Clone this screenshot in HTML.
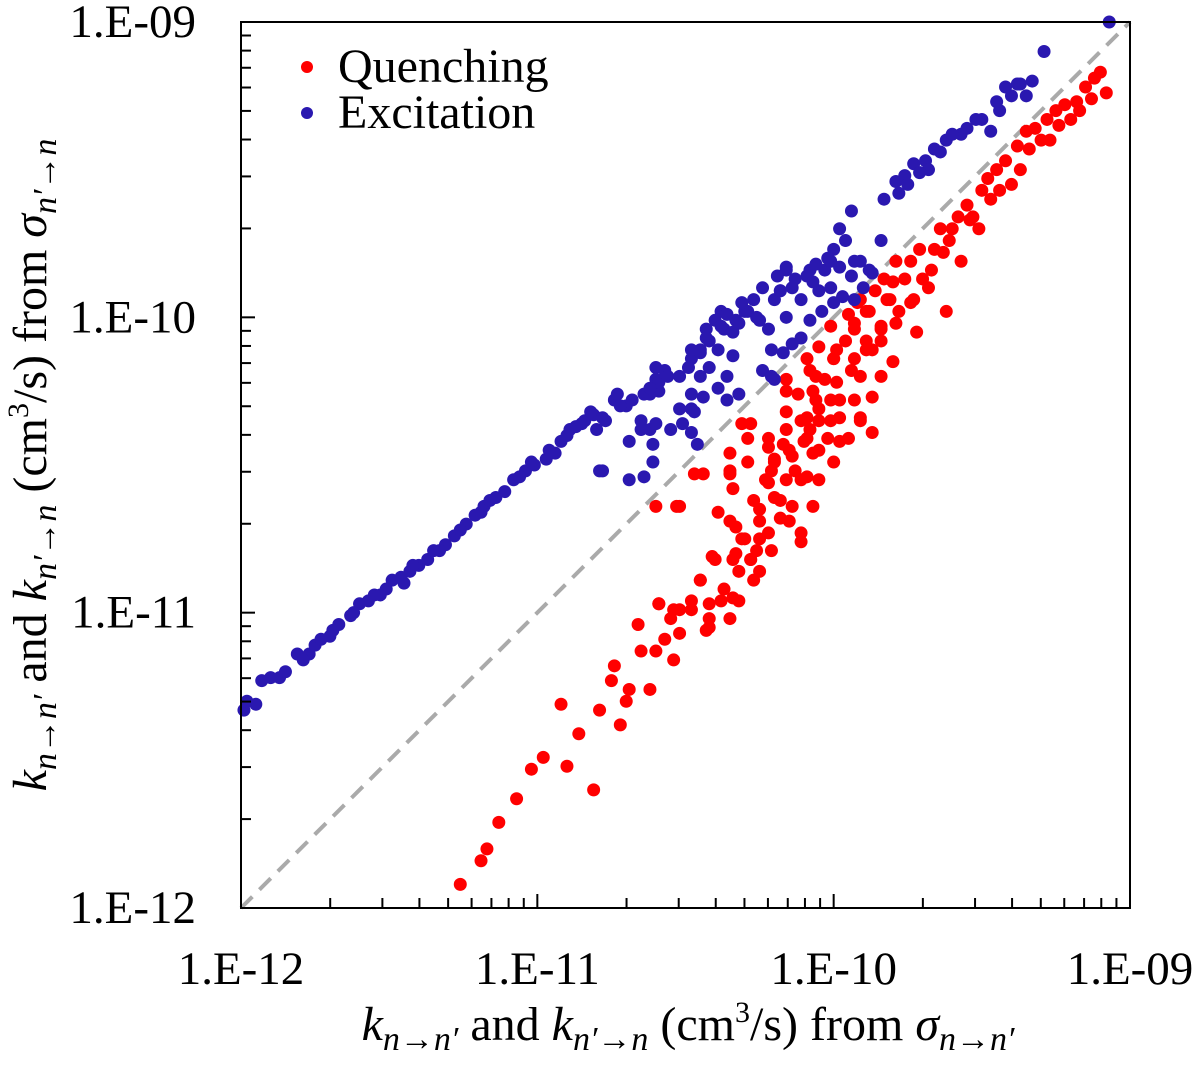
<!DOCTYPE html>
<html><head><meta charset="utf-8"><style>
html,body{margin:0;padding:0;background:#fff}
svg text{font-family:"Liberation Serif",serif;fill:#000}
</style></head><body>
<svg id="chart" width="1200" height="1063" xmlns="http://www.w3.org/2000/svg">
<g id="plot"></g>
<g id="axes"></g>
<g>
<circle cx="307" cy="67" r="6" fill="#ff0000"/>
<text x="338" y="82" font-size="48">Quenching</text>
<circle cx="307" cy="113" r="6" fill="#2a18b0"/>
<text x="338" y="128" font-size="48">Excitation</text>
</g>
<text x="688" y="1040" font-size="48" text-anchor="middle"><tspan font-style="italic">k</tspan><tspan font-style="italic" font-size="34" dy="10">n→n′</tspan><tspan dy="-10"> and  </tspan><tspan font-style="italic">k</tspan><tspan font-style="italic" font-size="34" dy="10">n′→n</tspan><tspan dy="-10"> (cm</tspan><tspan font-size="30" dy="-18">3</tspan><tspan dy="18">/s) from </tspan><tspan font-style="italic">σ</tspan><tspan font-style="italic" font-size="34" dy="10">n→n′</tspan></text>
<text transform="translate(46,465) rotate(-90)" font-size="48" text-anchor="middle"><tspan font-style="italic">k</tspan><tspan font-style="italic" font-size="34" dy="10">n→n′</tspan><tspan dy="-10"> and  </tspan><tspan font-style="italic">k</tspan><tspan font-style="italic" font-size="34" dy="10">n′→n</tspan><tspan dy="-10"> (cm</tspan><tspan font-size="30" dy="-18">3</tspan><tspan dy="18">/s) from </tspan><tspan font-style="italic">σ</tspan><tspan font-style="italic" font-size="34" dy="10">n′→n</tspan></text>
</svg>
<script>
// log10 values of rate coefficients (cm^3/s)
const excitationLogX=[-11.99,-11.98,-11.95,-11.93,-11.90,-11.87,-11.81,-11.77,-11.75,-11.73,-11.70,-11.67,-11.63,-11.60,-11.57,-11.55,-11.51,-11.49,-11.46,-11.43,-11.40,-11.37,-11.35,-11.31,-11.28,-11.24,-11.21,-11.18,-11.14,-11.11,-11.08,-11.04,-11.01,-10.97,-10.94,-10.92,-10.89,-10.87,-10.84,-10.81,-10.77,-10.79,-10.74,-10.70,-10.69,-10.65,-10.64,-10.62,-10.60,-10.59,-10.57,-10.52,-10.48,-10.48,-10.45,-10.43,-10.42,-10.40,-10.38,-10.37,-10.33,-10.30,-10.27,-10.25,-10.21,-10.20,-10.18,-10.16,-10.13,-10.11,-10.08,-10.05,-10.03,-10.01,-10.00,-9.98,-9.96,-9.94,-9.91,-9.88,-9.84,-9.83,-9.79,-9.76,-9.73,-9.69,-9.66,-9.62,-9.57,-9.52,-9.47,-9.44,-9.40,-9.37,-9.35,-9.29,-9.07,
-10.69,-10.64,-10.61,-10.78,-10.65,-10.61,-10.55,-10.60,-10.51,-10.47,-10.46,-10.48,-10.52,-10.78,-10.72,-10.68,-10.73,-10.62,-10.59,-10.56,-10.60,-10.62,-10.49,-10.48,-10.45,-10.45,-10.42,-10.43,-10.39,-10.38,-10.36,-10.34,-10.32,-10.29,-10.31,-10.26,-10.34,-10.36,-10.39,-10.36,-10.32,-10.44,-10.48,-10.24,-10.19,-10.16,-10.20,-10.16,-10.18,-10.14,-10.09,-10.06,-10.02,-9.98,-9.93,-10.07,-10.01,-9.97,-9.93,-10.00,-10.04,-10.08,-10.11,-10.14,-10.17,-10.22,-10.24,-10.21,-9.94,-9.87,-9.90,
-11.85,-11.79,-11.69,-11.62,-11.53,-11.45,-11.42,-11.33,-11.26,-11.19,-11.16,-11.06,-11.02,-10.96,-10.90,-10.85,-10.82,-10.80,
-9.60,-9.55,-9.50,-9.45,-9.42,-9.38,-9.33,-9.64,-9.68,-9.71,-9.75,-9.78];
const excitationLogY=[-11.33,-11.30,-11.31,-11.23,-11.22,-11.22,-11.14,-11.14,-11.11,-11.09,-11.08,-11.04,-11.01,-10.97,-10.96,-10.94,-10.92,-10.89,-10.88,-10.86,-10.84,-10.82,-10.79,-10.77,-10.74,-10.70,-10.67,-10.64,-10.61,-10.59,-10.55,-10.52,-10.50,-10.48,-10.46,-10.42,-10.38,-10.37,-10.35,-10.33,-10.35,-10.52,-10.28,-10.30,-10.42,-10.35,-10.26,-10.38,-10.21,-10.25,-10.18,-10.20,-10.14,-10.31,-10.11,-10.04,-10.08,-10.01,-9.98,-10.04,-10.01,-9.98,-9.94,-10.01,-10.11,-10.21,-9.91,-9.84,-9.87,-9.94,-9.84,-9.91,-9.84,-9.81,-9.77,-9.70,-9.74,-9.64,-9.81,-9.84,-9.74,-9.60,-9.54,-9.52,-9.48,-9.47,-9.43,-9.40,-9.38,-9.33,-9.37,-9.30,-9.25,-9.21,-9.25,-9.10,-9.00,
-10.55,-10.54,-10.49,-10.52,-10.38,-10.43,-10.38,-10.36,-10.36,-10.32,-10.43,-10.39,-10.31,-10.34,-10.30,-10.28,-10.26,-10.26,-10.22,-10.20,-10.17,-10.24,-10.17,-10.11,-10.12,-10.20,-10.17,-10.07,-10.11,-10.03,-9.99,-10.05,-10.02,-9.98,-9.95,-10.00,-10.13,-10.20,-10.24,-10.28,-10.26,-10.27,-10.26,-9.90,-9.86,-9.83,-9.94,-10.00,-9.91,-9.90,-9.86,-9.82,-9.80,-9.83,-9.81,-9.88,-9.90,-9.93,-9.94,-9.95,-9.98,-10.01,-10.07,-10.09,-10.12,-10.04,-10.18,-10.20,-9.86,-9.85,-9.90,
-11.20,-11.16,-11.06,-11.00,-10.94,-10.90,-10.84,-10.79,-10.72,-10.66,-10.62,-10.54,-10.49,-10.45,-10.40,-10.36,-10.32,-10.38,
-9.38,-9.36,-9.33,-9.27,-9.22,-9.21,-9.20,-9.44,-9.50,-9.51,-9.55,-9.58];
const quenchingLogX=[-11.26,-11.19,-11.17,-11.13,-11.07,-11.02,-10.98,-10.90,-10.86,-10.92,-10.81,-10.79,-10.75,-10.74,-10.72,-10.70,-10.69,-10.65,-10.62,-10.60,-10.59,-10.57,-10.55,-10.54,-10.52,-10.48,-10.45,-10.43,-10.42,-10.40,-10.38,-10.37,-10.35,-10.33,-10.32,-10.30,-10.28,-10.27,-10.25,-10.23,-10.21,-10.20,-10.18,-10.15,-10.13,-10.11,-10.10,-10.08,-10.06,-10.05,-10.03,-10.01,-10.00,-9.98,-9.96,-9.94,-9.93,-9.91,-9.89,-9.88,-9.86,-9.84,-9.83,-9.81,-9.79,-9.78,-9.76,-9.74,-9.73,-9.71,-9.67,-9.64,-9.62,-9.61,-9.57,-9.54,-9.51,-9.47,-9.44,-9.40,-9.37,-9.34,-9.30,-9.27,-9.24,-9.20,-9.17,-9.13,-9.08,-10.25,-10.15,-10.11,-10.21,-10.32,-10.27,-10.35,-10.52,-10.60,-10.05,-9.98,-9.91,-10.08,
-10.66,-10.59,-10.54,-10.52,-10.48,-10.45,-10.42,-10.42,-10.35,-10.34,-10.34,-10.41,-10.28,-10.31,-10.26,-10.25,-10.33,-10.22,-10.18,-10.11,-10.25,-10.20,-10.14,-10.07,-10.22,-10.16,-10.09,-10.05,-10.20,-10.14,-10.07,-10.00,-10.34,-10.35,-10.22,-10.17,-10.09,-10.02,-9.95,-10.05,-9.98,-9.91,-9.87,-10.16,-10.09,-10.01,-9.93,-9.87,-10.12,-10.07,-9.99,-9.91,-9.84,-10.06,-10.16,-10.00,-9.93,-9.87,-9.80,-9.99,-10.05,-9.89,-9.84,-10.01,-9.93,-9.84,-9.95,-9.89,-9.92,-9.82,-9.80,-9.79,-10.47,-10.44,-10.53,-10.39,-10.31,-10.28,-10.22,-10.16,-10.29,-10.35,-10.29,-10.11,-10.09,-10.16,
-9.70,-9.68,-9.66,-9.60,-9.58,-9.55,-9.50,-9.48,-9.45,-9.42,-9.38,-9.35,-9.32,-9.28,-9.25,-9.22,-9.18,-9.15,-9.12,-9.10,-9.74,-9.72,-9.63,-9.53];
const quenchingLogY=[-11.92,-11.84,-11.80,-11.71,-11.63,-11.53,-11.49,-11.52,-11.41,-11.31,-11.60,-11.33,-11.23,-11.18,-11.38,-11.30,-11.26,-11.13,-11.26,-11.13,-10.97,-11.09,-11.02,-11.16,-10.99,-10.96,-10.89,-11.06,-11.02,-10.82,-10.96,-10.92,-10.69,-10.80,-10.86,-10.75,-10.82,-10.62,-10.69,-10.55,-10.52,-10.48,-10.62,-10.45,-10.52,-10.35,-10.42,-10.38,-10.28,-10.31,-10.21,-10.35,-10.14,-10.28,-10.08,-10.18,-10.04,-9.94,-10.11,-9.98,-9.91,-10.04,-9.87,-9.94,-9.81,-9.98,-9.87,-9.81,-9.94,-9.77,-9.84,-9.70,-9.98,-9.74,-9.81,-9.67,-9.70,-9.60,-9.57,-9.55,-9.50,-9.43,-9.40,-9.40,-9.35,-9.33,-9.30,-9.26,-9.24,-10.75,-10.69,-10.55,-10.79,-10.96,-10.89,-10.52,-10.64,-10.64,-10.45,-10.42,-10.35,-10.18,
-11.04,-10.97,-10.99,-11.07,-10.99,-10.89,-10.97,-11.05,-11.02,-10.95,-10.82,-10.81,-10.82,-10.75,-10.79,-10.86,-10.71,-10.73,-10.68,-10.73,-10.65,-10.61,-10.64,-10.64,-10.56,-10.55,-10.54,-10.55,-10.49,-10.47,-10.46,-10.49,-10.58,-10.53,-10.44,-10.43,-10.41,-10.41,-10.41,-10.35,-10.34,-10.34,-10.39,-10.32,-10.34,-10.28,-10.28,-10.27,-10.26,-10.25,-10.22,-10.20,-10.20,-10.20,-10.21,-10.14,-10.14,-10.11,-10.15,-10.11,-10.10,-10.08,-10.08,-10.03,-10.02,-10.03,-9.99,-9.98,-9.95,-9.94,-9.88,-10.02,-10.53,-10.53,-10.64,-10.66,-10.36,-10.36,-10.41,-10.38,-10.41,-10.46,-10.49,-10.76,-10.14,-10.25,
-9.87,-9.90,-9.77,-9.70,-9.66,-9.62,-9.57,-9.53,-9.50,-9.47,-9.42,-9.37,-9.36,-9.33,-9.30,-9.28,-9.27,-9.22,-9.19,-9.17,-9.95,-10.05,-9.78,-9.66];
const xTickLabels=["1.E-12","1.E-11","1.E-10","1.E-09"];
const yTickLabels=["1.E-12","1.E-11","1.E-10","1.E-09"];
const decades=[-12,-11,-10,-9];

const NS="http://www.w3.org/2000/svg";
const X0=241,X1=1130,Y0=908,Y1=22;
function sx(l){return X0+(l+12)/3*(X1-X0);}
function sy(l){return Y0-(l+12)/3*(Y0-Y1);}
function mk(tag,attrs,parent){const e=document.createElementNS(NS,tag);for(const k in attrs)e.setAttribute(k,attrs[k]);parent.appendChild(e);return e;}
const plot=document.getElementById('plot'),axes=document.getElementById('axes');

let diag=mk('line',{x1:sx(-12),y1:sy(-12),x2:sx(-9),y2:sy(-9),stroke:'#aaaaaa','stroke-width':4,'stroke-dasharray':'16,10'},plot);



for(let i=0;i<quenchingLogX.length;i++){
  const c=mk('circle',{cx:sx(quenchingLogX[i]),cy:sy(quenchingLogY[i]),r:6.5,fill:'#ff0000'},plot);
  
  
}
for(let i=0;i<excitationLogX.length;i++){
  const c=mk('circle',{cx:sx(excitationLogX[i]),cy:sy(excitationLogY[i]),r:6.5,fill:'#2a18b0'},plot);
  
  
}

let frame=mk('rect',{x:X0,y:Y1,width:X1-X0,height:Y0-Y1,fill:'none',stroke:'#000','stroke-width':2},axes);



for(let d=0;d<3;d++){
  for(let m=2;m<=9;m++){
    const l=decades[d]+Math.log10(m);
    let t=mk('line',{x1:sx(l),x2:sx(l),y1:Y0,y2:Y0-10,stroke:'#000','stroke-width':2},axes);
    
    
    let u=mk('line',{x1:X0,x2:X0+10,y1:sy(l),y2:sy(l),stroke:'#000','stroke-width':2},axes);
    
    
  }
}
decades.forEach((d,i)=>{
  let t=mk('line',{x1:sx(d),x2:sx(d),y1:Y0,y2:Y0-14,stroke:'#000','stroke-width':2},axes);
  
  
  let u=mk('line',{x1:X0,x2:X0+14,y1:sy(d),y2:sy(d),stroke:'#000','stroke-width':2},axes);
  
  
  let tx=mk('text',{x:sx(d),y:984,'font-size':47,'text-anchor':'middle'},axes);
  tx.textContent=xTickLabels[i];
  
  
  let ty=mk('text',{x:196,y:sy(d)+15,'font-size':47,'text-anchor':'end'},axes);
  ty.textContent=yTickLabels[i];
  
  
});
</script>
</body></html>
